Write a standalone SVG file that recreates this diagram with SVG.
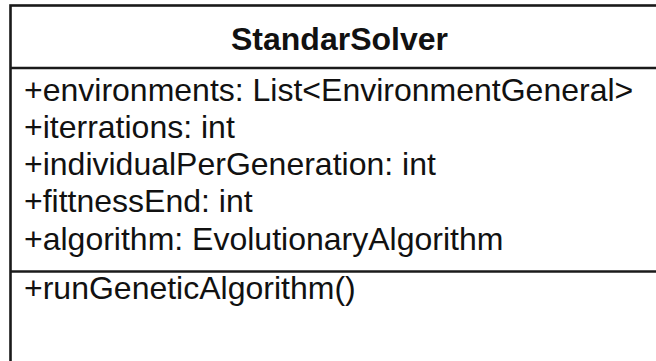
<svg xmlns="http://www.w3.org/2000/svg" width="656" height="361" viewBox="0 0 656 361">
  <style>
    .frame { fill: #ffffff; stroke: #1a1a1a; stroke-width: 2.6; }
    .sep { stroke: #1a1a1a; stroke-width: 2.6; }
    .txt { font-family: "Liberation Sans", Arial, Helvetica, sans-serif; font-size: 32px; fill: #111111; }
    .title { font-weight: bold; text-anchor: middle; }
  </style>
  <rect width="656" height="361" fill="#ffffff"/>
  <g id="StandarSolver">
    <rect class="frame" x="10.5" y="5.5" width="658" height="357.2"/>
    <text class="txt title" x="339.5" y="50">StandarSolver</text>
    <line class="sep" x1="10.5" y1="68" x2="668.5" y2="68"/>
    <g id="attributes">
      <text class="txt" x="24" y="101">+environments: List&lt;EnvironmentGeneral&gt;</text>
      <text class="txt" x="24" y="137.5">+iterrations: int</text>
      <text class="txt" x="24" y="174.5">+individualPerGeneration: int</text>
      <text class="txt" x="24" y="212">+fittnessEnd: int</text>
      <text class="txt" x="24" y="249.5">+algorithm: EvolutionaryAlgorithm</text>
    </g>
    <line class="sep" x1="10.5" y1="271.5" x2="668.5" y2="271.5"/>
    <g id="operations">
      <text class="txt" x="24" y="299">+runGeneticAlgorithm()</text>
    </g>
  </g>
  <g id="connectors"/>
</svg>
